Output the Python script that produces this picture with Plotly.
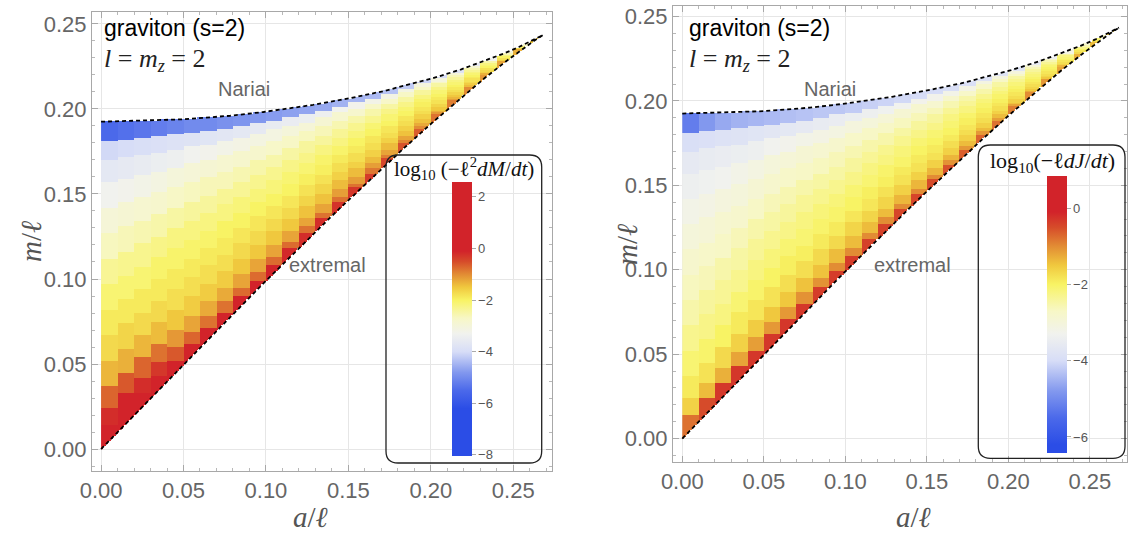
import numpy as np
import plotly.graph_objects as go

W, H = 1130, 534

# ---- data -----------------------------------------------------------------
# column centres in a/l (each column 0.01 wide); rows are bins of the fraction
# t between the extremal line (t=0) and the Nariai line (t=1)
A_COLS = [0.005, 0.015, 0.025, 0.035, 0.045, 0.055, 0.065, 0.075, 0.085, 0.095,
          0.105, 0.115, 0.125, 0.135, 0.145, 0.155, 0.165, 0.175, 0.185, 0.195,
          0.205, 0.215, 0.225, 0.235, 0.245, 0.255, 0.265]
T_EDGES = [0.0, 0.05, 0.10, 0.17, 0.25, 0.33, 0.41, 0.49, 0.57, 0.65, 0.73, 0.81, 0.88, 0.94, 1.0]

# log10(-l^2 dM/dt), one list per column, from extremal (first) to Nariai (last)
LOG_DM = [
    [2.0, -0.2, -0.7, -1.35, -1.7, -1.9, -2.1, -2.35, -2.65, -2.95, -3.3, -3.65, -4.05, -5.5],
    [1.5, -0.1, -0.6, -1.3, -1.65, -1.9, -2.1, -2.3, -2.6, -2.9, -3.25, -3.6, -4.0, -5.4],
    [1.0, -0.2, -0.7, -1.35, -1.7, -1.9, -2.1, -2.3, -2.55, -2.85, -3.2, -3.55, -3.95, -5.3],
    [0.7, -0.3, -0.8, -1.4, -1.7, -1.9, -2.05, -2.25, -2.5, -2.8, -3.1, -3.45, -3.9, -5.2],
    [0.4, -0.6, -1.1, -1.5, -1.75, -1.9, -2.05, -2.2, -2.45, -2.7, -3.0, -3.4, -3.85, -5.1],
    [0.2, -0.7, -1.2, -1.55, -1.75, -1.9, -2.05, -2.2, -2.4, -2.65, -2.95, -3.3, -3.8, -5.0],
    [0.1, -0.8, -1.25, -1.55, -1.75, -1.9, -2.05, -2.2, -2.4, -2.6, -2.9, -3.25, -3.75, -5.0],
    [0.0, -0.8, -1.25, -1.55, -1.75, -1.9, -2.0, -2.2, -2.35, -2.6, -2.85, -3.2, -3.7, -4.9],
    [0.0, -0.75, -1.2, -1.5, -1.7, -1.85, -2.0, -2.15, -2.35, -2.55, -2.8, -3.15, -3.65, -4.85],
    [-0.1, -0.75, -1.2, -1.5, -1.7, -1.85, -2.0, -2.15, -2.3, -2.5, -2.8, -3.1, -3.6, -4.8],
    [-0.1, -0.75, -1.2, -1.5, -1.7, -1.85, -2.0, -2.15, -2.3, -2.5, -2.75, -3.1, -3.55, -4.75],
    [-0.15, -0.75, -1.2, -1.5, -1.7, -1.85, -2.0, -2.1, -2.25, -2.45, -2.7, -3.0, -3.5, -4.7],
    [-0.2, -0.8, -1.2, -1.45, -1.65, -1.8, -1.95, -2.1, -2.25, -2.4, -2.65, -2.95, -3.45, -4.65],
    [-0.2, -0.8, -1.2, -1.45, -1.65, -1.8, -1.95, -2.05, -2.2, -2.4, -2.6, -2.9, -3.4, -4.6],
    [-0.25, -0.8, -1.15, -1.4, -1.6, -1.75, -1.9, -2.05, -2.2, -2.35, -2.55, -2.85, -3.3, -4.5],
    [-0.3, -0.8, -1.15, -1.4, -1.6, -1.75, -1.9, -2.0, -2.15, -2.3, -2.5, -2.8, -3.25, -4.45],
    [-0.35, -0.85, -1.15, -1.4, -1.6, -1.75, -1.85, -2.0, -2.1, -2.3, -2.5, -2.75, -3.2, -4.4],
    [-0.45, -0.9, -1.2, -1.4, -1.6, -1.75, -1.85, -2.0, -2.1, -2.25, -2.45, -2.75, -3.15, -4.3],
    [-0.55, -0.95, -1.2, -1.45, -1.6, -1.75, -1.85, -2.0, -2.1, -2.25, -2.45, -2.7, -3.1, -4.2],
    [-0.65, -1.0, -1.25, -1.45, -1.6, -1.75, -1.85, -1.95, -2.05, -2.2, -2.4, -2.7, -3.05, -4.1],
    [-0.8, -1.1, -1.3, -1.5, -1.65, -1.8, -1.9, -2.0, -2.1, -2.25, -2.45, -2.7, -3.05, -4.0],
    [-0.9, -1.15, -1.35, -1.5, -1.65, -1.8, -1.9, -2.0, -2.1, -2.2, -2.4, -2.6, -2.95, -3.8],
    [-1.0, -1.2, -1.4, -1.55, -1.7, -1.8, -1.9, -2.0, -2.1, -2.2, -2.35, -2.55, -2.85, -3.6],
    [-1.1, -1.3, -1.45, -1.6, -1.7, -1.8, -1.9, -2.0, -2.1, -2.2, -2.3, -2.5, -2.7, -3.3],
    [-1.2, -1.35, -1.5, -1.6, -1.7, -1.8, -1.9, -2.0, -2.05, -2.15, -2.25, -2.4, -2.6, -3.0],
    [-1.3, -1.4, -1.55, -1.65, -1.75, -1.85, -1.9, -2.0, -2.05, -2.1, -2.2, -2.3, -2.45, -2.7],
    [-1.5, -1.6, -1.7, -1.75, -1.8, -1.85, -1.9, -1.95, -2.0, -2.05, -2.1, -2.15, -2.2, -2.3],
]

# log10(-l dJ/dt)
LOG_DJ = [
    [-0.8, -1.6, -1.9, -2.1, -2.3, -2.5, -2.65, -2.8, -3.0, -3.2, -3.4, -3.6, -3.95, -5.2],
    [-0.5, -1.4, -1.8, -2.05, -2.25, -2.4, -2.6, -2.75, -2.95, -3.15, -3.35, -3.55, -3.9, -4.8],
    [-0.3, -1.3, -1.7, -2.0, -2.2, -2.35, -2.5, -2.7, -2.85, -3.05, -3.3, -3.5, -3.85, -4.6],
    [-0.3, -1.2, -1.6, -1.9, -2.1, -2.3, -2.45, -2.6, -2.8, -3.0, -3.2, -3.45, -3.8, -4.5],
    [-0.3, -1.15, -1.55, -1.85, -2.05, -2.2, -2.35, -2.5, -2.7, -2.9, -3.1, -3.4, -3.75, -4.45],
    [-0.3, -1.1, -1.5, -1.8, -2.0, -2.15, -2.3, -2.45, -2.6, -2.8, -3.0, -3.3, -3.7, -4.4],
    [-0.3, -1.1, -1.5, -1.75, -1.95, -2.1, -2.25, -2.4, -2.55, -2.75, -2.95, -3.25, -3.65, -4.35],
    [-0.3, -1.05, -1.45, -1.75, -1.95, -2.1, -2.2, -2.35, -2.5, -2.7, -2.9, -3.2, -3.6, -4.3],
    [-0.35, -1.05, -1.45, -1.7, -1.9, -2.05, -2.15, -2.3, -2.45, -2.65, -2.85, -3.15, -3.55, -4.25],
    [-0.35, -1.0, -1.4, -1.7, -1.9, -2.05, -2.15, -2.3, -2.45, -2.6, -2.8, -3.1, -3.5, -4.25],
    [-0.35, -1.0, -1.4, -1.65, -1.85, -2.0, -2.1, -2.25, -2.4, -2.55, -2.75, -3.05, -3.45, -4.2],
    [-0.4, -1.0, -1.4, -1.65, -1.85, -1.95, -2.1, -2.2, -2.35, -2.5, -2.7, -3.0, -3.4, -4.15],
    [-0.4, -1.0, -1.4, -1.65, -1.8, -1.95, -2.05, -2.2, -2.3, -2.5, -2.7, -2.95, -3.35, -4.1],
    [-0.45, -1.0, -1.35, -1.6, -1.8, -1.9, -2.05, -2.15, -2.3, -2.45, -2.65, -2.9, -3.3, -4.05],
    [-0.45, -1.0, -1.35, -1.6, -1.8, -1.9, -2.0, -2.1, -2.25, -2.4, -2.6, -2.85, -3.25, -4.0],
    [-0.5, -1.0, -1.35, -1.6, -1.8, -1.9, -2.0, -2.1, -2.25, -2.4, -2.6, -2.85, -3.25, -4.0],
    [-0.55, -1.05, -1.35, -1.6, -1.75, -1.9, -2.0, -2.1, -2.2, -2.35, -2.55, -2.8, -3.2, -3.95],
    [-0.65, -1.1, -1.4, -1.6, -1.75, -1.85, -1.95, -2.05, -2.2, -2.35, -2.5, -2.75, -3.15, -3.9],
    [-0.7, -1.1, -1.4, -1.6, -1.75, -1.85, -1.95, -2.05, -2.15, -2.3, -2.5, -2.75, -3.1, -3.85],
    [-0.8, -1.15, -1.4, -1.6, -1.75, -1.85, -1.95, -2.05, -2.15, -2.3, -2.45, -2.7, -3.05, -3.8],
    [-0.9, -1.2, -1.45, -1.6, -1.75, -1.85, -1.95, -2.05, -2.15, -2.3, -2.45, -2.7, -3.05, -3.75],
    [-1.0, -1.25, -1.5, -1.65, -1.75, -1.85, -1.95, -2.05, -2.15, -2.25, -2.4, -2.6, -2.95, -3.6],
    [-1.1, -1.3, -1.5, -1.65, -1.75, -1.85, -1.95, -2.0, -2.1, -2.2, -2.35, -2.55, -2.8, -3.4],
    [-1.2, -1.35, -1.55, -1.65, -1.75, -1.85, -1.9, -2.0, -2.1, -2.2, -2.3, -2.45, -2.65, -3.1],
    [-1.3, -1.45, -1.55, -1.7, -1.8, -1.85, -1.9, -2.0, -2.05, -2.15, -2.25, -2.4, -2.55, -2.85],
    [-1.4, -1.5, -1.6, -1.7, -1.8, -1.9, -1.95, -2.0, -2.05, -2.15, -2.25, -2.35, -2.5, -2.65],
    [-1.6, -1.65, -1.7, -1.8, -1.85, -1.9, -1.95, -2.0, -2.05, -2.1, -2.15, -2.2, -2.3, -2.4],
]

# boundary curves (a/l, m/l)
EXT_A = [0.0, 0.0498, 0.0980, 0.1433, 0.1840, 0.2012, 0.2186, 0.2325, 0.2455,
         0.2523, 0.2577, 0.2627, 0.2649, 0.2669, 0.2678, 0.2679]
EXT_M = [0.0, 0.0496, 0.0970, 0.1402, 0.1772, 0.1922, 0.2068, 0.2180, 0.2279,
         0.2329, 0.2367, 0.2401, 0.2415, 0.2428, 0.2433, 0.2434]
NAR_A = [0.0, 0.0498, 0.0783, 0.0985, 0.1287, 0.1519, 0.1710, 0.2010, 0.2185,
         0.2328, 0.2443, 0.2534, 0.2602, 0.2649, 0.2668, 0.2679]
NAR_M = [0.1925, 0.1939, 0.1960, 0.1982, 0.2024, 0.2065, 0.2104, 0.2180, 0.2233,
         0.2282, 0.2326, 0.2364, 0.2395, 0.2418, 0.2428, 0.2434]

X_TICKS = [0.0, 0.05, 0.10, 0.15, 0.20, 0.25]
Y_TICKS = [0.0, 0.05, 0.10, 0.15, 0.20, 0.25]
CB_TICKS_DM = [-8, -6, -4, -2, 0, 2]
CB_TICKS_DJ = [-6, -4, -2, 0]
CB_RANGE_DM = (-8.04, 2.58)
CB_RANGE_DJ = (-6.42, 0.84)

# colour map (value -> colour), shared by both panels
STOP_V = [-6.2, -5.5, -4.8, -4.0, -3.3, -2.7, -2.0, -1.5, -1.0, -0.5, -0.1]
STOP_C = ['rgb(43,77,230)', 'rgb(75,105,234)', 'rgb(130,152,238)', 'rgb(215,221,247)',
          'rgb(241,242,238)', 'rgb(247,247,198)', 'rgb(248,243,100)', 'rgb(240,200,62)',
          'rgb(226,140,52)', 'rgb(214,75,42)', 'rgb(210,35,42)']


def colorscale(vmin, vmax):
    cs = [[0.0, STOP_C[0]]]
    for v, c in zip(STOP_V, STOP_C):
        p = (v - vmin) / (vmax - vmin)
        if 0 < p < 1:
            cs.append([p, c])
    cs.append([1.0, STOP_C[-1]])
    return cs


# raster used to paint the cells inside the allowed region
a_fine = np.arange(0.0005, 0.2680, 0.001)
m_fine = np.arange(0.0005, 0.2440, 0.001)
A_C = np.array(A_COLS)
ext_fine = np.interp(a_fine, EXT_A, EXT_M)
nar_fine = np.interp(a_fine, NAR_A, NAR_M)
col_of = np.argmin(np.abs(a_fine[:, None] - A_C[None, :]), axis=1)
ext_c = np.interp(A_C, EXT_A, EXT_M)
nar_c = np.interp(A_C, NAR_A, NAR_M)
NR = len(T_EDGES) - 1


def raster(table):
    tab = np.array(table)
    z = np.full((len(m_fine), len(a_fine)), np.nan)
    for i in range(len(a_fine)):
        j = col_of[i]
        inside = (m_fine >= ext_fine[i]) & (m_fine <= nar_fine[i])
        t = (m_fine - ext_c[j]) / (nar_c[j] - ext_c[j])
        k = np.clip(np.searchsorted(T_EDGES, t, side='right') - 1, 0, NR - 1)
        z[inside, i] = tab[j, k[inside]]
    return z


def px(x):
    return x / W


def py(y):
    return 1 - y / H


fig = go.Figure()

panels = [
    dict(table=LOG_DM, rng=CB_RANGE_DM, ticks=CB_TICKS_DM, xa='x', ya='y',
         cb_x=451.7, cb_y0=181.7, cb_y1=456.0, cb_w=20),
    dict(table=LOG_DJ, rng=CB_RANGE_DJ, ticks=CB_TICKS_DJ, xa='x2', ya='y2',
         cb_x=1047.3, cb_y0=176.0, cb_y1=453.0, cb_w=19.5),
]

for p in panels:
    vmin, vmax = p['rng']
    fig.add_trace(go.Heatmap(
        x=a_fine, y=m_fine, z=raster(p['table']),
        xaxis=p['xa'], yaxis=p['ya'],
        zmin=vmin, zmax=vmax, colorscale=colorscale(vmin, vmax),
        zsmooth=False, hoverinfo='skip',
        colorbar=dict(
            x=px(p['cb_x']), xanchor='left',
            y=py((p['cb_y0'] + p['cb_y1']) / 2), yanchor='middle',
            len=p['cb_y1'] - p['cb_y0'], lenmode='pixels',
            thickness=p['cb_w'], thicknessmode='pixels',
            xpad=0, ypad=0, outlinewidth=0,
            tickmode='array', tickvals=p['ticks'],
            ticktext=[str(v).replace('-', '\u2212') for v in p['ticks']],
            ticks='outside', ticklen=4, tickcolor='#aaaaaa',
            tickfont=dict(family='Liberation Sans', size=13, color='#555555'),
        ),
    ))
    for xs, ys in ((EXT_A, EXT_M), (NAR_A, NAR_M)):
        fig.add_trace(go.Scatter(
            x=xs, y=ys, mode='lines', xaxis=p['xa'], yaxis=p['ya'],
            line=dict(color='black', width=1.8, dash='4px,3px'),
            hoverinfo='skip', showlegend=False))

axis_common = dict(
    showgrid=True, gridcolor='#e6e6e6', gridwidth=1,
    zeroline=False, showline=True, linecolor='#a8a8a8', linewidth=1,
    mirror='ticks', ticks='inside', ticklen=6, tickcolor='#a8a8a8',
    tickmode='array', tickformat='.2f', automargin=False,
    tickfont=dict(family='Liberation Sans', size=22, color='#666666'),
    minor=dict(dtick=0.01, ticks='inside', ticklen=3, tickcolor='#b8b8b8', showgrid=False),
)

fig.update_layout(
    template='none',
    width=W, height=H,
    margin=dict(l=0, r=0, t=0, b=0, pad=0, autoexpand=False),
    paper_bgcolor='white', plot_bgcolor='white',
    showlegend=False,
    xaxis=dict(domain=[px(92), px(552)], range=[-0.0055, 0.2735], anchor='y',
               tickvals=X_TICKS, **axis_common),
    yaxis=dict(domain=[py(471), py(12)], range=[-0.0129, 0.257], anchor='x',
               tickvals=Y_TICKS, **axis_common),
    xaxis2=dict(domain=[px(673), px(1127)], range=[-0.0057, 0.2728], anchor='y2',
                tickvals=X_TICKS, **axis_common),
    yaxis2=dict(domain=[py(462), py(6)], range=[-0.0139, 0.2562], anchor='x2',
                tickvals=Y_TICKS, **axis_common),
)


def rrect(x0, y0, x1, y1, r):
    X = lambda v: f"{px(v):.5f}"
    Y = lambda v: f"{py(v):.5f}"
    return (f"M {X(x0 + r)},{Y(y0)} L {X(x1 - r)},{Y(y0)} Q {X(x1)},{Y(y0)} {X(x1)},{Y(y0 + r)} "
            f"L {X(x1)},{Y(y1 - r)} Q {X(x1)},{Y(y1)} {X(x1 - r)},{Y(y1)} "
            f"L {X(x0 + r)},{Y(y1)} Q {X(x0)},{Y(y1)} {X(x0)},{Y(y1 - r)} "
            f"L {X(x0)},{Y(y0 + r)} Q {X(x0)},{Y(y0)} {X(x0 + r)},{Y(y0)} Z")


for box in ((386, 155, 541.7, 463), (978.3, 145, 1125, 458.3)):
    fig.add_shape(type='path', xref='paper', yref='paper', path=rrect(*box, 12),
                  line=dict(color='#222222', width=1.3), layer='above')

ann = []


def text(x, y, s, size, color, family='Liberation Sans', xanchor='center', angle=0):
    ann.append(dict(x=px(x), y=py(y), xref='paper', yref='paper', text=s, showarrow=False,
                    xanchor=xanchor, yanchor='middle', textangle=angle,
                    font=dict(family=family, size=size, color=color)))


for dx, nar_x, ext_x in ((0, 244, 327), (585, 830, 912)):
    text(102 + dx, 28, 'graviton (s=2)', 23, '#000000', xanchor='left')
    text(102 + dx, 60, '<i>l</i> = <i>m</i><sub><i>z</i></sub> = 2', 26, '#222222',
         family='Liberation Serif', xanchor='left')
    text(nar_x, 89, 'Nariai', 20, '#666666')
    text(ext_x, 265, 'extremal', 20, '#666666')

text(31, 242, '<i>m</i>/<i>ℓ</i>', 29, '#555555', family='Liberation Serif', angle=-90)
text(627, 245, '<i>m</i>/<i>ℓ</i>', 29, '#555555', family='Liberation Serif', angle=-90)
text(310, 517, '<i>a</i>/<i>ℓ</i>', 29, '#555555', family='Liberation Serif')
text(913, 517, '<i>a</i>/<i>ℓ</i>', 29, '#555555', family='Liberation Serif')

text(464, 168, 'log<sub>10</sub> (−ℓ<sup>2</sup><i>dM</i>/<i>dt</i>)', 21, '#111111',
     family='Liberation Serif')
text(1052, 162, 'log<sub>10</sub>(−ℓ<i>dJ</i>/<i>dt</i>)', 22, '#111111',
     family='Liberation Serif')

fig.update_layout(annotations=ann)

fig.write_html("out.html", config={'displayModeBar': False},
               post_script="document.body.style.margin='0';document.body.style.overflow='hidden';")
